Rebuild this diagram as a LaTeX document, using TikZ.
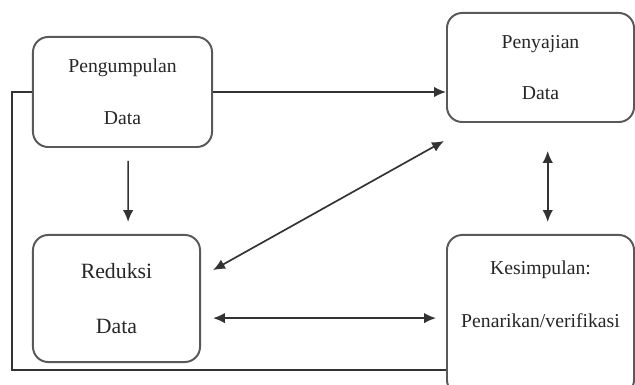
\documentclass[tikz,border=0pt]{standalone}
\usepackage{fontspec}
\setmainfont{Liberation Serif}
\usetikzlibrary{arrows.meta}

\tikzset{
  box/.style={draw=black!65, line width=1.4pt, rounded corners=0.38cm, align=center,
    text=black!85, font=\fontsize{14}{16.8}\selectfont},
  link/.style={draw=black!80, line width=1.2pt}
}

\begin{document}
\begin{tikzpicture}[x=0.025cm, y=-0.025cm, >={Latex[length=8.5pt,width=7.5pt]}]
            \clip (0,0) rectangle (635,385);
            \node[box, minimum width=4.475cm, minimum height=2.75cm] at (122.5,92) (pd) {Pengumpulan\\[20pt]Data};
            \node[box, minimum width=4.675cm, minimum height=2.725cm] at (540.5,67.5) (sd) {Penyajian\\[20pt]Data};
            \node[box, minimum width=4.175cm, minimum height=3.175cm, font=\fontsize{15.5}{18.6}\selectfont] at (116.5,298.5) (rd) {Reduksi\\[20pt]Data};
            \node[box, minimum width=4.675cm, minimum height=4cm] at (540.5,315) (kd) {Kesimpulan:\\[21pt]Penarikan/verifikasi\\[8pt]\strut};
            \coordinate (lp) at (12,370);
            \draw[link, ->] (pd.east) -- (pd.east -| sd.west);
            \draw[link, ->, shorten <=0.32cm, shorten >=0.3cm] ([xshift=0.14cm]pd.south) -- ([xshift=0.29cm]rd.north);
            \draw[link, <->] ([xshift=0.3cm,yshift=0.71cm]rd.east) -- ([xshift=-0.05cm,yshift=-0.45cm]sd.south west);
            \draw[link, <->, shorten >=0.25cm] ([xshift=0.3cm,yshift=-0.49cm]rd.east) -- ([yshift=-0.49cm]rd.east -| kd.west);
            \draw[link, <->, shorten <=0.7cm, shorten >=0.3cm] ([xshift=0.18cm]sd.south) -- ([xshift=0.18cm]kd.north);
            \draw[link] (pd.west) -| (lp) -- (lp -| kd.west);
\end{tikzpicture}
\end{document}
